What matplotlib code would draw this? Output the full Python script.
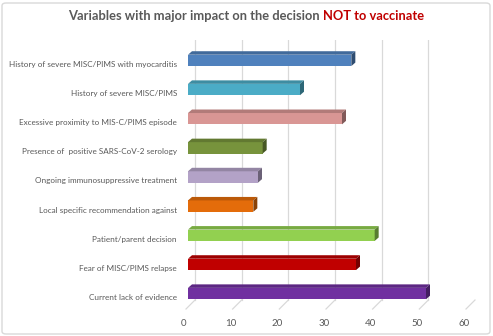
import matplotlib
matplotlib.use('Agg')
import matplotlib.pyplot as plt
import matplotlib.transforms as mtransforms
from matplotlib.patches import Polygon, FancyBboxPatch
import numpy as np

categories = [
    'History of severe MISC/PIMS with myocarditis',
    'History of severe MISC/PIMS',
    'Excessive proximity to MIS-C/PIMS episode',
    'Presence of  positive SARS-CoV-2 serology',
    'Ongoing immunosuppressive treatment',
    'Local specific recommendation against',
    'Patient/parent decision',
    'Fear of MISC/PIMS relapse',
    'Current lack of evidence',
]
values = [35, 24, 33, 16, 15, 14, 40, 36, 51]
colors = ['#4F81BD', '#4BACC6', '#D99694', '#77933C', '#B3A2C7',
          '#E46C0A', '#92D050', '#C00000', '#7030A0']
xticks = [0, 10, 20, 30, 40, 50, 60]

TEXT = '#595959'
GRID = '#D9D9D9'
FONT = ['Lato', 'DejaVu Sans']

W, H, DPI = 493, 336, 100
fig = plt.figure(figsize=(W / DPI, H / DPI), dpi=DPI)
fig.patch.set_facecolor('white')
renderer = fig.canvas.get_renderer()

# chart border
fig.patches.append(FancyBboxPatch((2 / W, 2 / H), (W - 5) / W, (H - 5) / H,
                                  boxstyle='round,pad=0,rounding_size=0.008',
                                  transform=fig.transFigure, facecolor='none',
                                  edgecolor=GRID, linewidth=1.0))

left_px, right_px, top_px, bot_px = 188, 468, 40, 309
ax = fig.add_axes([left_px / W, (H - bot_px) / H, (right_px - left_px) / W, (bot_px - top_px) / H])
ax.set_xlim(0, 60)
n = len(categories)
ax.set_ylim(-0.53, n - 1 + 0.70)
for s in ax.spines.values():
    s.set_visible(False)

ypos = np.arange(n)[::-1]
bar_h = 0.39

# pixel -> data conversions for the fake 3D depth
px_x = 60 / (right_px - left_px)
px_y = (n - 1 + 0.70 + 0.53) / (bot_px - top_px)
dx, dy = 4 * px_x, 3.5 * px_y


def shade(c, f):
    r, g, b = matplotlib.colors.to_rgb(c)
    return (r * f, g * f, b * f)


# back wall gridlines and floor lines
floor_back = -0.53 + 9 * px_y
for v in xticks:
    ax.plot([v + 7 * px_x, v + 7 * px_x], [n - 1 + 0.70, floor_back], color=GRID, lw=0.9, zorder=0)
    ax.plot([v + 7 * px_x, v - 2 * px_x], [floor_back, -0.53], color=GRID, lw=0.9, zorder=0,
            clip_on=False)

ax.barh(ypos, values, height=bar_h, color=colors, zorder=3)
for y, v, c in zip(ypos, values, colors):
    top = y + bar_h / 2
    bot = y - bar_h / 2
    ax.add_patch(Polygon([(0, top), (v, top), (v + dx, top + dy), (dx, top + dy)],
                         closed=True, facecolor=shade(c, 0.82), edgecolor='none', zorder=3))
    ax.add_patch(Polygon([(v, bot), (v + dx, bot + dy), (v + dx, top + dy), (v, top)],
                         closed=True, facecolor=shade(c, 0.6), edgecolor='none', zorder=3))

ax.set_yticks(ypos)
ax.set_yticklabels(categories, fontsize=6.8, color=TEXT, family=FONT)
ax.set_xticks(xticks)
ax.set_xticklabels([str(t) for t in xticks], fontsize=7, color=TEXT, family=FONT)
ax.tick_params(axis='both', length=0)
ax.tick_params(axis='y', pad=8)
ax.tick_params(axis='x', pad=7)

# fit the longest category label to the reference width (~169 px)
longest = max(ax.get_yticklabels(), key=lambda t: len(t.get_text()))
lw = longest.get_window_extent(renderer).width
if lw > 0:
    size = 6.8 * 169 / lw
    for lab in ax.get_yticklabels():
        lab.set_fontsize(size)

for lab in ax.get_xticklabels():
    lab.set_transform(lab.get_transform() + mtransforms.ScaledTranslation(-3 / 72, 0, fig.dpi_scale_trans))
for lab in ax.get_yticklabels():
    lab.set_transform(lab.get_transform() + mtransforms.ScaledTranslation(0, -2.5 / 72, fig.dpi_scale_trans))

# two-colour title, centred as a whole
part1 = 'Variables with major impact on the decision '
part2 = 'NOT to vaccinate'
tkw = dict(fontsize=10.5, fontweight='bold', family=FONT, va='center', ha='left')
t1 = fig.text(0, 1 - 16 / H, part1, color=TEXT, **tkw)
t2 = fig.text(0, 1 - 16 / H, part2, color='#C00000', **tkw)
w1 = t1.get_window_extent(renderer).width
w2 = t2.get_window_extent(renderer).width
scale = 357 / (w1 + w2)
t1.set_fontsize(10.5 * scale)
t2.set_fontsize(10.5 * scale)
w1 = t1.get_window_extent(renderer).width
w2 = t2.get_window_extent(renderer).width
x0 = 246 - (w1 + w2) / 2
t1.set_x(x0 / W)
t2.set_x((x0 + w1) / W)

fig.savefig('out.png', dpi=DPI)
